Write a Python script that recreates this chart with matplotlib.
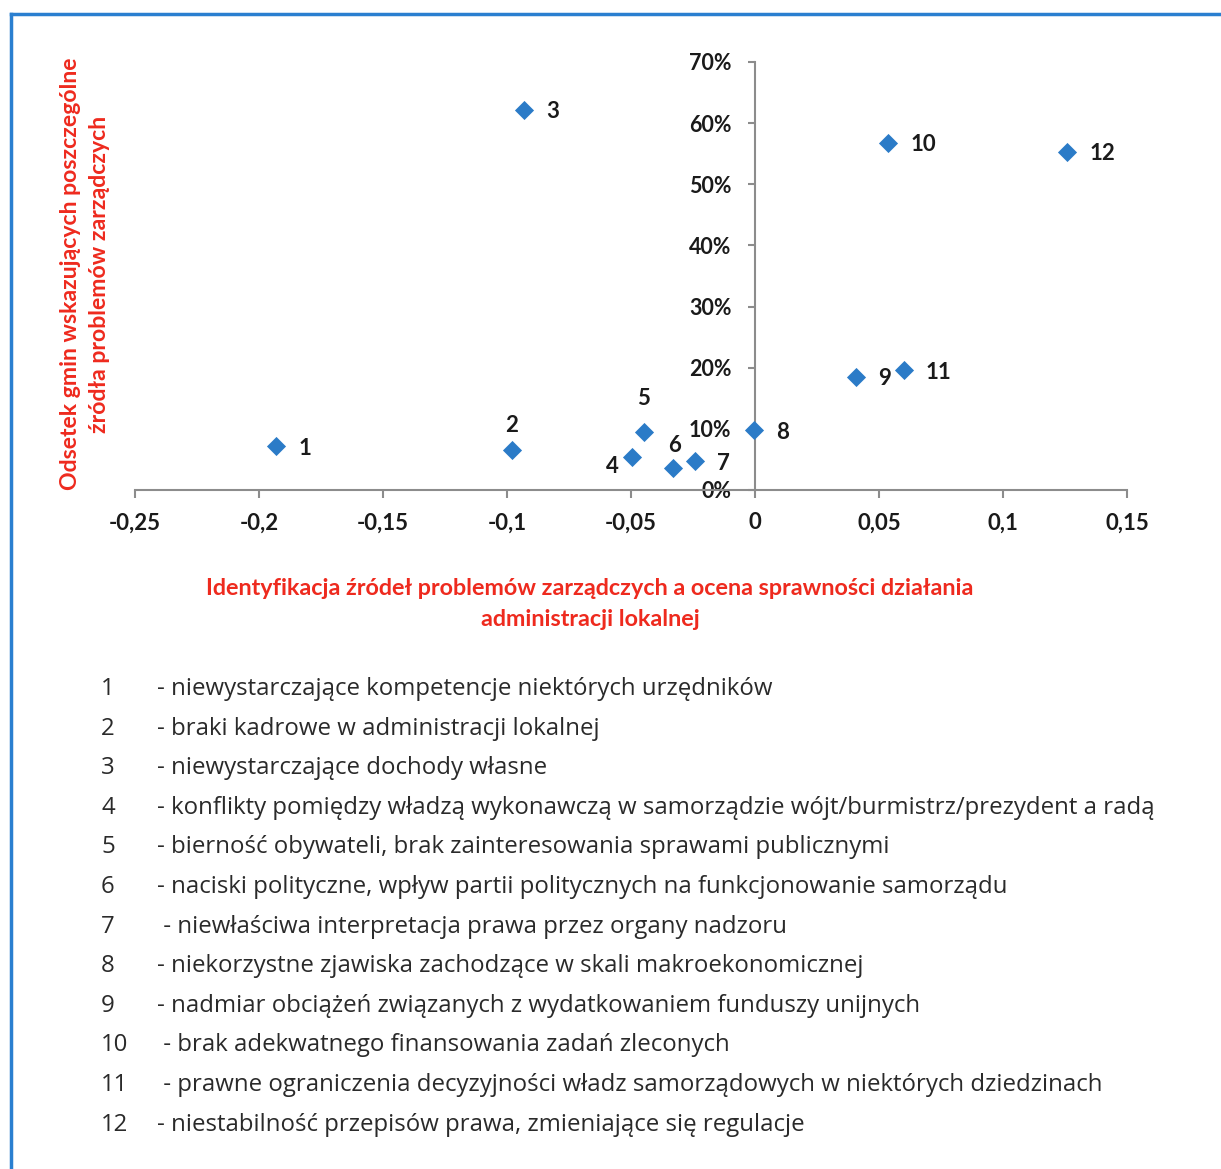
import matplotlib.pyplot as plt
from matplotlib.ticker import FuncFormatter, MultipleLocator
from matplotlib.lines import Line2D

# data
ids = ["1", "2", "3", "4", "5", "6", "7", "8", "9", "10", "11", "12"]
x_vals = [-0.193, -0.098, -0.093, -0.0495, -0.0448, -0.0331, -0.0242, -0.0004, 0.0407, 0.0536, 0.060, 0.1258]
y_vals = [0.072, 0.065, 0.622, 0.054, 0.095, 0.036, 0.047, 0.098, 0.185, 0.568, 0.196, 0.553]

descriptions = [
    "- niewystarczające kompetencje niektórych urzędników",
    "- braki kadrowe w administracji lokalnej",
    "- niewystarczające dochody własne",
    "- konflikty pomiędzy władzą wykonawczą w samorządzie wójt/burmistrz/prezydent a radą",
    "- bierność obywateli, brak zainteresowania sprawami publicznymi",
    "- naciski polityczne, wpływ partii politycznych na funkcjonowanie samorządu",
    " - niewłaściwa interpretacja prawa przez organy nadzoru",
    "- niekorzystne zjawiska zachodzące w skali makroekonomicznej",
    "- nadmiar obciążeń związanych z wydatkowaniem funduszy unijnych",
    " - brak adekwatnego finansowania zadań zleconych",
    " - prawne ograniczenia decyzyjności władz samorządowych w niektórych dziedzinach",
    "- niestabilność przepisów prawa, zmieniające się regulacje",
]

ylabel = "Odsetek gmin wskazujących poszczególne\nźródła problemów zarządczych"
xlabel = "Identyfikacja źródeł problemów zarządczych a ocena sprawności działania\nadministracji lokalnej"

# label offsets (points) relative to marker
offsets = {
    "2": (0, 18, "center"), "4": (-10, -7, "right"), "5": (0, 24, "center"),
    "6": (1, 16, "center"),
}

red = "#ee2a1e"
blue = "#2b7bc7"
grey = "#8c8c8c"
chart_font = "Lato"

fig = plt.figure(figsize=(12.21, 11.69), dpi=100)
ax = fig.add_axes([135 / 1221, 1 - 490 / 1169, 992 / 1221, 428 / 1169])

ax.scatter(x_vals, y_vals, marker="D", s=95, color=blue, zorder=3, linewidths=0)

for i, x, y in zip(ids, x_vals, y_vals):
    dx, dy, ha = offsets.get(i, (16, -1.5, "left"))
    ax.annotate(i, (x, y), xytext=(dx, dy), textcoords="offset points",
                ha=ha, va="center", fontsize=16, fontweight="bold",
                family=chart_font, color="#1a1a1a")

ax.set_xlim(-0.25, 0.15)
ax.set_ylim(0, 0.7)
ax.xaxis.set_major_locator(MultipleLocator(0.05))
ax.yaxis.set_major_locator(MultipleLocator(0.1))
ax.xaxis.set_major_formatter(FuncFormatter(lambda v, p: ("%g" % round(v, 2)).replace(".", ",")))
ax.yaxis.set_major_formatter(FuncFormatter(lambda v, p: "%d%%" % round(v * 100)))

for s in ["top", "right"]:
    ax.spines[s].set_visible(False)
ax.spines["left"].set_position(("data", 0))
ax.spines["left"].set_color(grey)
ax.spines["bottom"].set_color(grey)
ax.spines["left"].set_linewidth(1.5)
ax.spines["bottom"].set_linewidth(1.5)

ax.tick_params(axis="x", direction="out", length=6, width=1.5, color=grey, pad=10,
               labelsize=16, labelcolor="#1a1a1a")
ax.tick_params(axis="y", direction="out", length=5, width=1.5, color=grey, pad=12,
               labelsize=15.5, labelcolor="#1a1a1a")
for lab in ax.get_xticklabels() + ax.get_yticklabels():
    lab.set_family(chart_font)
    lab.set_fontweight("bold")
ax.patch.set_alpha(0)

fig.text(85 / 1221, 1 - 274 / 1169, ylabel, rotation=90, ha="center", va="center",
         fontsize=16.6, fontweight="bold", family=chart_font, color=red,
         multialignment="center", linespacing=1.48)
fig.text(590 / 1221, 1 - 604 / 1169, xlabel, ha="center", va="center",
         fontsize=16.8, fontweight="bold", family=chart_font, color=red,
         multialignment="center", linespacing=1.58)

# numbered list below the chart
for k, (i, d) in enumerate(zip(ids, descriptions)):
    yy = 1 - (689 + k * 39.6) / 1169
    fig.text(101 / 1221, yy, i, ha="left", va="center", fontsize=17.25,
             family="Open Sans", color="#2a2a2a")
    fig.text(157 / 1221, yy, d, ha="left", va="center", fontsize=17.25,
             family="Open Sans", color="#2a2a2a")

# blue frame
border = "#2a7fd0"
fig.add_artist(Line2D([11 / 1221, 1], [1 - 14 / 1169, 1 - 14 / 1169], color=border, lw=2.5,
                      transform=fig.transFigure))
fig.add_artist(Line2D([11 / 1221, 11 / 1221], [0, 1 - 14 / 1169], color=border, lw=2.5,
                      transform=fig.transFigure))

fig.savefig("out.png", dpi=100)
